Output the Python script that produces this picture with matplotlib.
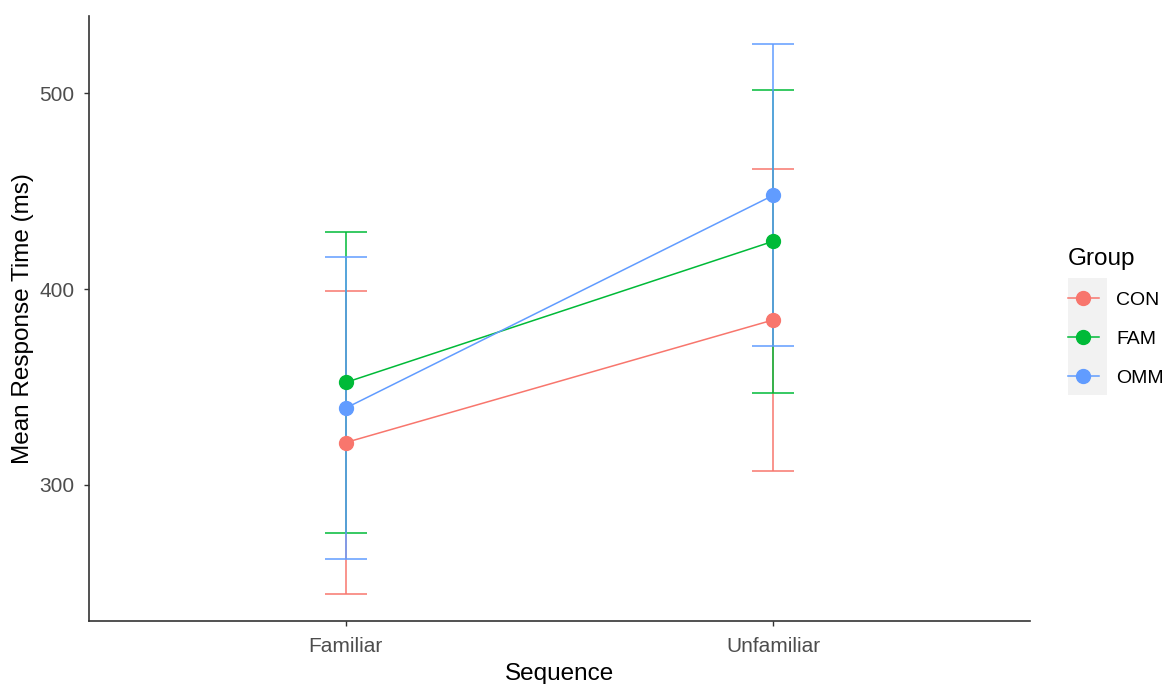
import matplotlib
matplotlib.use("Agg")

import matplotlib.pyplot as plt
from matplotlib.lines import Line2D
from matplotlib.patches import Rectangle


# =====================================================
# DATA
# =====================================================

sequences = ["Familiar", "Unfamiliar"]

groups = ["CON", "FAM", "OMM"]

con_mean = [321.6, 384.3]
con_err = [77.4, 77.2]

fam_mean = [352.3, 424.5]
fam_err = [77.0, 77.4]

omm_mean = [339.2, 448.0]
omm_err = [77.0, 77.3]

colors = {
    "CON": "#F8766D",
    "FAM": "#00BA38",
    "OMM": "#619CFF"
}


# =====================================================
# FIGURE
# =====================================================

plt.rcParams["font.family"] = ["Liberation Sans", "DejaVu Sans"]

fig = plt.figure(figsize=(11.67, 6.84), dpi=100)

ax = fig.add_axes([0.0763, 0.0921, 0.8063, 0.8845])

x = list(range(1, len(sequences) + 1))

series = [
    ("CON", con_mean, con_err),
    ("FAM", fam_mean, fam_err),
    ("OMM", omm_mean, omm_err)
]

# error bars first, in group order
for name, mean, err in series:
    ax.errorbar(
        x,
        mean,
        yerr=err,
        fmt="none",
        ecolor=colors[name],
        elinewidth=1.1,
        capsize=15.3,
        capthick=1.1,
        zorder=2
    )

for name, mean, err in series:
    ax.plot(
        x,
        mean,
        color=colors[name],
        lw=1.1,
        zorder=3
    )

for name, mean, err in series:
    ax.plot(
        x,
        mean,
        linestyle="none",
        marker="o",
        markersize=10,
        color=colors[name],
        zorder=4
    )


# =====================================================
# AXES STYLE
# =====================================================

ax.set_xlim(0.4, 2.6)
ax.set_ylim(230.4, 539.6)

ax.set_xticks(x)
ax.set_xticklabels(sequences)
ax.set_yticks([300, 400, 500])

for side in ["top", "right"]:
    ax.spines[side].set_visible(False)

for side in ["left", "bottom"]:
    ax.spines[side].set_color("#333333")
    ax.spines[side].set_linewidth(1.2)

ax.tick_params(
    axis="both",
    length=3.5,
    width=1.0,
    color="#333333",
    labelcolor="#4D4D4D",
    labelsize=15
)
ax.tick_params(axis="x", pad=8)
ax.tick_params(axis="y", pad=7)

ax.set_xlabel("Sequence", fontsize=17.5, color="black", labelpad=5)
ax.set_ylabel("Mean Response Time (ms)", fontsize=17.5, color="black", labelpad=3.5)


# =====================================================
# LEGEND
# =====================================================

fig.patches.append(
    Rectangle(
        (0.9152, 0.4225),
        0.0334,
        0.1711,
        transform=fig.transFigure,
        facecolor="#F2F2F2",
        edgecolor="none",
        zorder=0
    )
)

handles = [
    Line2D([], [], color=colors[g], lw=1.1, marker="o", markersize=10)
    for g in groups
]

leg = fig.legend(
    handles,
    groups,
    title="Group",
    loc="upper left",
    bbox_to_anchor=(0.9150, 0.637),
    frameon=False,
    fontsize=14,
    title_fontsize=17.5,
    handlelength=1.6,
    handletextpad=0.9,
    labelspacing=1.1,
    alignment="left",
    borderpad=0,
    borderaxespad=0
)

fig.savefig("out.png", dpi=100)
